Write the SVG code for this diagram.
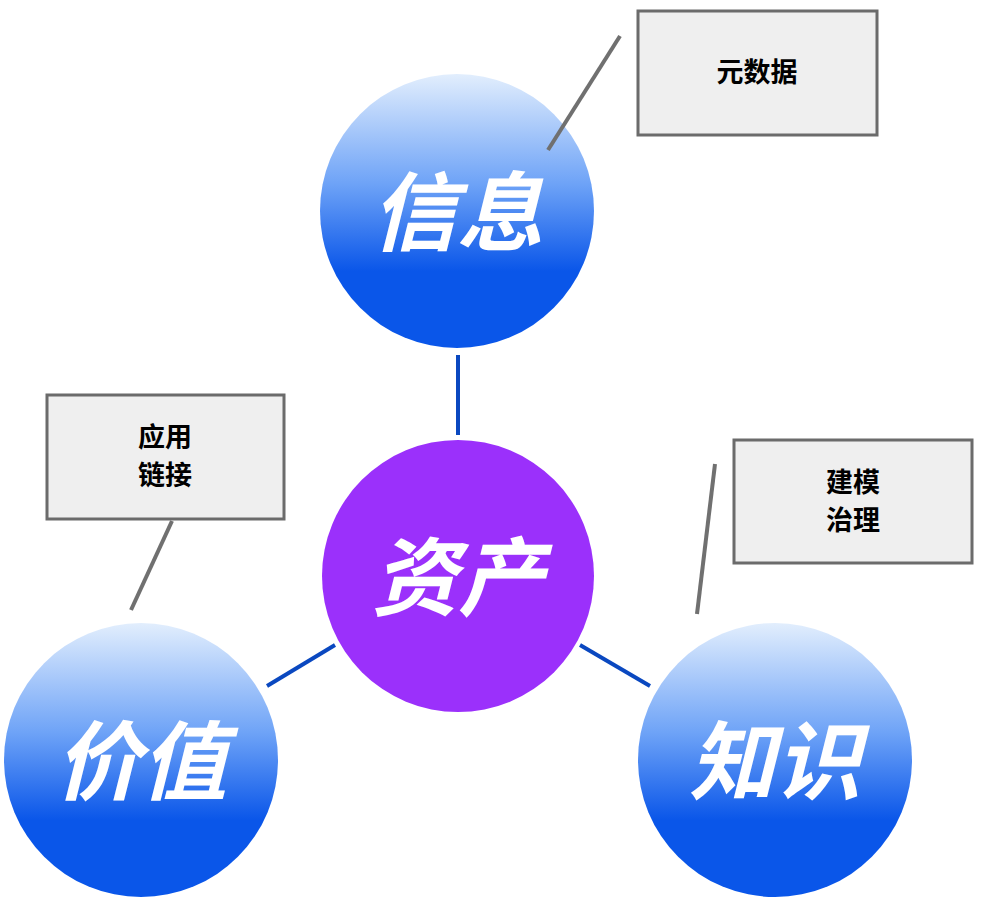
<svg xmlns="http://www.w3.org/2000/svg" width="986" height="908" viewBox="0 0 986 908">
<defs>
<linearGradient id="blue" x1="0" y1="0" x2="0" y2="1">
<stop offset="0" stop-color="#e2eefd"/>
<stop offset="0.4" stop-color="#6ea3f7"/>
<stop offset="0.72" stop-color="#0a56e9"/>
<stop offset="1" stop-color="#0a56e9"/>
</linearGradient>
</defs>
<style>
.b{fill:url(#blue)}
.big{font-family:"Noto Sans CJK SC","Noto Sans",sans-serif;font-weight:bold;font-style:italic;font-size:86px;fill:#fff;text-anchor:middle}
.box{fill:#efefef;stroke:#6b6b6b;stroke-width:3}
.lbl{font-family:"Noto Sans CJK SC","Noto Sans",sans-serif;font-weight:bold;font-size:27px;fill:#000;text-anchor:middle}
.blue{stroke:#0a48c0;stroke-width:4}
.gray{stroke:#707070;stroke-width:4}
</style>
<g id="info"><circle class="b" cx="457" cy="211" r="137"/><text class="big" x="457" y="244">信息</text></g>
<g id="asset"><circle cx="458" cy="576" r="136" fill="#9b30fb"/><text class="big" x="458" y="609">资产</text></g>
<g id="value"><circle class="b" cx="141" cy="760" r="137"/><text class="big" x="141" y="793">价值</text></g>
<g id="knowledge"><circle class="b" cx="775" cy="760" r="137"/><text class="big" x="775" y="793">知识</text></g>
<g id="meta"><rect class="box" x="638" y="11" width="239" height="124"/><text class="lbl" x="757" y="82">元数据</text></g>
<g id="app"><rect class="box" x="47" y="395" width="237" height="124"/><text class="lbl" x="165" y="447">应用</text><text class="lbl" x="165" y="485">链接</text></g>
<g id="model"><rect class="box" x="734" y="440" width="238" height="123"/><text class="lbl" x="853" y="492">建模</text><text class="lbl" x="853" y="530">治理</text></g>
<g id="connectors">
<line class="blue" x1="458" y1="355" x2="458" y2="435"/>
<line class="blue" x1="335" y1="645" x2="267" y2="686"/>
<line class="blue" x1="580" y1="645" x2="650" y2="686"/>
<line class="gray" x1="620" y1="36" x2="548" y2="150"/>
<line class="gray" x1="172" y1="521" x2="131" y2="610"/>
<line class="gray" x1="715" y1="464" x2="697" y2="614"/>
</g>
</svg>
